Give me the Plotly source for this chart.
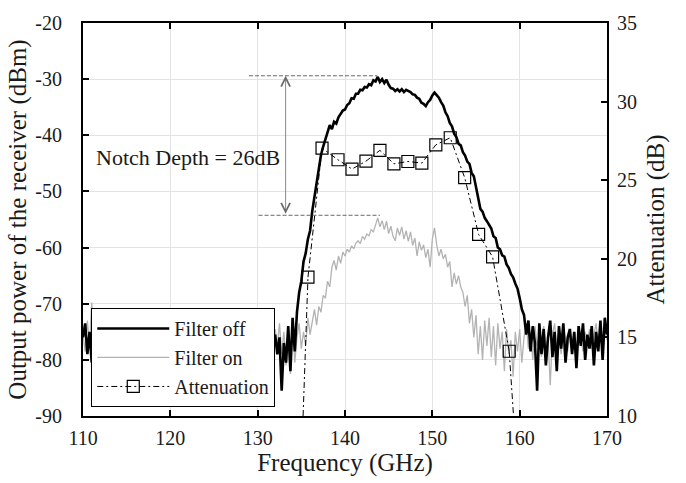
import numpy as np
import plotly.graph_objects as go

# ---------------- data ----------------
FREQ_START, FREQ_STEP = 110.0, 0.25

FILTER_OFF = [
    -76.0, -73.5, -79.0, -75.0, -80.5, -76.0, -72.5, -75.5, -77.0, -74.5,
    -76.5, -75.5, -77.5, -74.0, -73.0, -76.0, -73.5, -77.0, -75.5, -76.5,
    -74.5, -77.5, -75.0, -76.0, -71.5, -75.5, -77.0, -74.5, -76.5, -73.5,
    -77.0, -75.0, -76.0, -72.5, -75.5, -77.5, -74.0, -73.5, -76.5, -73.8,
    -76.0, -74.5, -77.0, -75.5, -76.5, -74.8, -77.5, -75.0, -76.0, -74.6,
    -77.0, -75.5, -74.2, -76.5, -75.0, -77.0, -73.5, -76.0, -74.0, -77.5,
    -75.5, -73.0, -76.5, -71.2, -75.0, -77.0, -74.0, -76.0, -73.0, -75.5,
    -72.3, -76.5, -72.8, -75.0, -77.0, -74.5, -72.5, -76.0, -74.8, -77.0,
    -73.5, -76.5, -75.0, -77.5, -74.5, -76.0, -74.0, -77.0, -75.5, -79.0,
    -76.0, -85.5, -77.0, -80.5, -74.0, -82.0, -72.5, -78.5, -71.5, -68.0,
    -66.0, -62.5, -61.0, -58.5, -57.0, -53.5, -51.0, -48.5, -45.5, -43.5,
    -42.0, -40.5, -39.5, -38.2, -38.9, -37.6, -37.9, -36.8, -36.3, -35.6,
    -35.4, -34.6, -34.3, -33.4, -33.5, -32.6, -32.6, -31.9, -32.0, -31.4,
    -31.5, -30.9, -31.1, -30.2, -30.4, -29.6, -30.5, -30.0, -30.7, -30.1,
    -31.0, -31.6, -31.7, -32.1, -31.8, -32.2, -31.8, -32.3, -31.9, -32.1,
    -32.3, -32.7, -32.8, -33.3, -33.5, -34.2, -34.4, -34.8, -34.1, -33.7,
    -32.9, -32.4, -32.9, -33.3, -34.1, -34.7, -35.9, -36.6, -37.8, -38.4,
    -39.7, -40.3, -41.5, -41.8, -43.0, -43.6, -44.7, -45.1, -46.7, -47.3,
    -49.2, -51.3, -53.1, -53.6, -54.7, -55.3, -56.0, -56.6, -58.0, -58.3,
    -60.0, -60.3, -61.4, -61.6, -63.0, -63.6, -64.7, -65.3, -66.4, -67.3,
    -69.0, -71.0, -72.0, -75.5, -73.0, -78.5, -74.0, -77.0, -85.5, -73.5,
    -79.0, -74.5, -81.0, -76.0, -73.0, -79.5, -75.0, -82.0, -74.0, -78.0,
    -73.5, -80.5, -76.0, -74.5, -79.0, -75.0, -81.5, -74.0, -77.5, -73.5,
    -80.0, -75.5, -78.0, -74.0, -81.0, -75.0, -78.5, -73.0, -80.0, -72.5,
    -75.5,
]

FILTER_ON = [
    -75.5, -78.5, -73.0, -77.5, -69.8, -76.0, -74.0, -77.0, -75.0, -73.8,
    -76.5, -74.6, -76.0, -75.0, -77.0, -74.0, -76.5, -74.8, -71.0, -76.0,
    -74.5, -77.0, -73.5, -75.5, -76.5, -74.0, -77.0, -74.6, -72.5, -76.0,
    -74.5, -77.0, -74.8, -76.0, -75.0, -77.5, -74.9, -76.5, -75.0, -77.0,
    -75.5, -76.8, -74.8, -77.0, -75.6, -76.0, -74.9, -77.0, -73.5, -76.0,
    -75.0, -77.5, -72.8, -76.0, -74.0, -72.5, -76.5, -74.5, -73.0, -76.0,
    -72.5, -77.0, -74.0, -76.5, -73.0, -75.5, -72.0, -76.5, -74.5, -77.0,
    -74.0, -76.0, -74.5, -73.0, -76.5, -75.0, -77.0, -74.0, -76.5, -73.5,
    -76.0, -74.5, -77.0, -75.5, -76.0, -71.8, -75.5, -78.0, -74.5, -77.5,
    -73.5, -79.0, -75.0, -81.0, -76.5, -82.5, -73.0, -80.5, -76.0, -73.5,
    -78.0, -75.0, -77.5, -72.5, -75.5, -73.5, -71.0, -73.8, -70.5, -71.5,
    -68.5, -69.0, -66.0, -67.0, -63.5, -62.3, -64.0, -61.5, -62.8, -60.8,
    -61.5, -60.3, -60.8, -59.7, -60.2, -59.2, -58.8, -59.3, -58.0, -58.5,
    -57.6, -57.9, -56.8, -57.2, -56.0, -54.7, -56.3, -55.2, -56.8, -55.3,
    -57.5, -56.2, -58.0, -58.8, -56.5, -57.8, -56.3, -58.5, -57.0, -58.9,
    -57.2, -59.6, -58.3, -61.5, -59.0, -60.5, -59.5, -61.8, -60.3, -63.5,
    -58.5, -56.5, -59.5, -61.5, -60.3, -62.0, -61.2, -63.5, -62.5, -67.0,
    -64.5, -66.5, -65.0, -67.0, -68.0, -70.5, -68.5, -73.5, -71.0, -76.0,
    -72.0, -79.0, -74.0, -80.0, -73.0, -77.5, -72.5, -79.5, -74.0, -81.0,
    -73.5, -78.0, -75.0, -82.0, -74.5, -79.0, -76.5, -83.0, -75.0, -78.5,
    -74.5, -80.5, -76.0, -73.5, -78.0, -75.0, -80.0, -74.0, -77.5, -75.5,
    -79.5, -74.0, -78.0, -76.0, -84.5, -75.5, -73.5, -78.0, -75.5, -79.0,
    -74.0, -76.5, -78.5, -74.5, -77.0, -75.0, -79.0, -74.0, -76.5, -78.5,
    -75.0, -77.0, -74.5, -78.0, -75.5, -73.5, -77.5, -75.0, -78.0, -74.0,
    -76.5,
]

ATT_FREQ = [135.76, 137.37, 139.2, 140.8, 142.4, 144.0, 145.6, 147.2,
            148.8, 150.4, 152.05, 153.7, 155.3, 156.9, 158.8]
ATT_DB = [18.83, 27.04, 26.3, 25.71, 26.21, 26.9, 26.04, 26.19,
          26.09, 27.25, 27.7, 25.17, 21.55, 20.12, 14.12]
ATT_TAIL_FREQ = [135.2, 159.3]   # where the fitted curve leaves the axes
ATT_TAIL_DB = [10.0, 10.0]

X_TICKS = [110, 120, 130, 140, 150, 160, 170]
Y_TICKS = [-90, -80, -70, -60, -50, -40, -30, -20]
Y_TICK_TEXT = ["-90", "-80", "-70", "-60", "-50", "-40", "-30", "-20"]
Y2_TICKS = [10, 15, 20, 25, 30, 35]

NOTCH_X = 133.2
NOTCH_TOP = -29.4
NOTCH_BOTTOM = -54.25
TOP_GUIDE = (129.0, 143.7)
BOTTOM_GUIDE = (130.1, 144.0)
NOTCH_LABEL = "Notch Depth = 26dB"
NOTCH_LABEL_POS = (122.05, -44.0)

freq = FREQ_START + FREQ_STEP * np.arange(len(FILTER_OFF))

FONT = "Liberation Serif, Times New Roman, serif"
TXT = "#1a1a1a"
TITLE_SIZE = 25

fig = go.Figure()
fig.add_trace(go.Scatter(
    x=freq, y=FILTER_ON, mode="lines", name="Filter on",
    line=dict(color="#b3b3b3", width=1.3), legendrank=2))
fig.add_trace(go.Scatter(
    x=freq, y=FILTER_OFF, mode="lines", name="Filter off",
    line=dict(color="black", width=2.6), legendrank=1))
fig.add_trace(go.Scatter(
    x=[ATT_TAIL_FREQ[0], ATT_FREQ[0], None, ATT_FREQ[-1], ATT_TAIL_FREQ[1]],
    y=[ATT_TAIL_DB[0], ATT_DB[0], None, ATT_DB[-1], ATT_TAIL_DB[1]],
    mode="lines", yaxis="y2", showlegend=False, hoverinfo="skip",
    line=dict(color="black", width=1, dash="6px,3px,2px,3px")))
fig.add_trace(go.Scatter(
    x=ATT_FREQ, y=ATT_DB, mode="lines+markers", name="Attenuation", yaxis="y2",
    line=dict(color="black", width=1, dash="6px,3px,2px,3px"),
    marker=dict(symbol="square-open", size=12, color="black",
                line=dict(width=1.2, color="black")),
    legendrank=3))

# guide lines of the notch depth marker
for (x0, x1), yv in ((TOP_GUIDE, NOTCH_TOP), (BOTTOM_GUIDE, NOTCH_BOTTOM)):
    fig.add_shape(type="line", xref="x", yref="y", x0=x0, x1=x1, y0=yv, y1=yv,
                  line=dict(color="#6a6a6a", width=1, dash="4px,2px"))

fig.add_annotation(x=NOTCH_X, y=NOTCH_TOP, ax=NOTCH_X, ay=NOTCH_BOTTOM,
                   xref="x", yref="y", axref="x", ayref="y", text="",
                   showarrow=True, arrowside="end+start", arrowhead=5,
                   arrowsize=2.2, arrowwidth=0.8, arrowcolor="#6a6a6a",
                   standoff=0, startstandoff=0)
fig.add_annotation(x=NOTCH_LABEL_POS[0], y=NOTCH_LABEL_POS[1], xref="x", yref="y",
                   text=NOTCH_LABEL, showarrow=False, xanchor="center",
                   font=dict(family=FONT, size=22, color=TXT))

axis_common = dict(showline=True, linecolor="black", linewidth=2, ticks="inside",
                   ticklen=6, tickwidth=2, tickcolor="black",
                   tickfont=dict(family=FONT, size=20, color=TXT), zeroline=False)

fig.update_layout(
    width=686, height=483,
    margin=dict(l=83, r=79, t=14, b=67),
    paper_bgcolor="white", plot_bgcolor="white",
    font=dict(family=FONT, color=TXT),
    xaxis=dict(range=[110, 170], tickvals=X_TICKS, mirror="ticks",
               showgrid=True, gridcolor="#e3e3e3", gridwidth=1,
               ticklabelstandoff=3,
               title=dict(text="Frequency (GHz)",
                          font=dict(family=FONT, size=TITLE_SIZE, color=TXT),
                          standoff=4),
               **axis_common),
    yaxis=dict(range=[-90, -20], tickvals=Y_TICKS, ticktext=Y_TICK_TEXT, mirror=True,
               showgrid=True, gridcolor="#e3e3e3", gridwidth=1,
               ticklabelstandoff=15,
               title=dict(text="Output power of the receiver (dBm)",
                          font=dict(family=FONT, size=TITLE_SIZE, color=TXT), standoff=2),
               **axis_common),
    yaxis2=dict(range=[10, 35], tickvals=Y2_TICKS, overlaying="y", side="right",
                showgrid=False, ticklabelstandoff=4,
                title=dict(text="Attenuation (dB)",
                           font=dict(family=FONT, size=TITLE_SIZE, color=TXT),
                           standoff=10),
                **axis_common),
    legend=dict(x=0.0158, y=0.023, xanchor="left", yanchor="bottom",
                bgcolor="white", bordercolor="black", borderwidth=1,
                font=dict(family=FONT, size=20, color=TXT),
                itemwidth=72, tracegroupgap=0),
    showlegend=True,
)

fig.write_html("out.html")
